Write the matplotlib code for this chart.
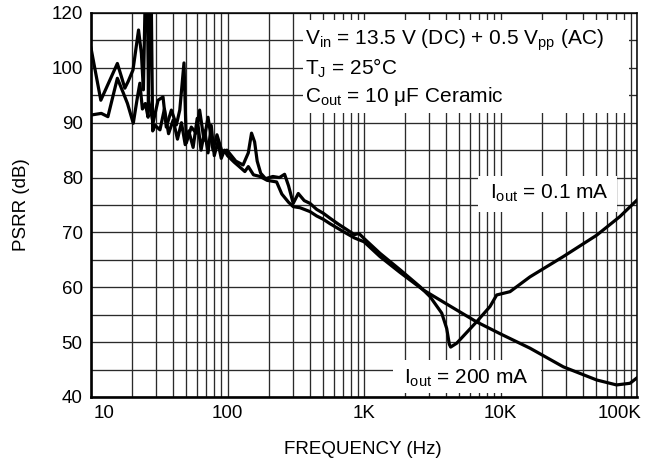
import matplotlib
matplotlib.use("Agg")
import matplotlib.pyplot as plt
import matplotlib.transforms as mtransforms
from matplotlib.patches import Rectangle

plt.rcParams['font.family'] = ['Liberation Sans', 'DejaVu Sans']
plt.rcParams['mathtext.fontset'] = 'custom'
plt.rcParams['mathtext.rm'] = 'Liberation Sans'
plt.rcParams['mathtext.it'] = 'Liberation Sans:italic'

# ---- data ----
freq_low = [10, 11.8, 15.6, 16.7, 17.7, 18.7, 20.3, 22.3, 23.4, 24.2, 25.5, 26.4, 28.5, 31, 33.7,
            35.6, 38.8, 42.2, 44.7, 48, 49.9, 54.3, 59, 62.5, 67.3, 72, 78.3, 83.7, 91.2, 99,
            115, 130, 142, 150, 158, 165, 175, 190, 215, 240, 262, 280, 303, 330, 365, 402,
            450, 503, 563, 650, 750, 850, 920, 1000, 1309, 1837, 2573, 3046, 3710, 4034,
            4220, 4315, 4775, 6677, 8380, 9380, 11740, 16440, 28840, 50700, 75000, 100000]
psrr_low = [103.6, 94.1, 100.8, 98.4, 96.3, 97.5, 99.6, 106.9, 102.6, 96, 125, 94.1, 90.0, 94.1, 94.7,
            89.2, 92.3, 89.6, 92.3, 100.9, 86.3, 89.2, 88.1, 92.3, 86.8, 91, 85, 87.8, 84.7, 85,
            83.0, 82.3, 84.5, 88.1, 86.5, 83, 80.8, 79.8, 80.2, 80.0, 80.6, 78.5, 75.3, 77.1, 75.8, 75.3,
            74.2, 73.5, 72.6, 71.5, 70.5, 69.6, 69.8, 68.9, 66.2, 63.2, 60.1, 58.3, 55.3, 52.5,
            49.6, 49.1, 49.8, 53.7, 56.5, 58.6, 59.2, 61.9, 65.6, 69.5, 72.9, 75.9]

freq_high = [10, 11.9, 13.3, 15.6, 17.2, 18.5, 20.4, 22.0, 22.8, 23.8, 25.0, 26.2, 27.3, 28.3, 29.5,
             32, 34.5, 37, 40, 43, 46, 49, 52, 56, 60, 64, 68, 72, 76, 80, 85, 90, 95, 100,
             112, 122, 134, 142, 155, 173, 195, 229, 250, 280, 303, 340, 402, 450, 503, 563,
             700, 850, 1000, 1309, 1837, 2723, 4000, 6677, 10000, 16440, 28840, 50700, 70800,
             88900, 100000]
psrr_high = [91.4, 91.7, 91.1, 98.1, 95.5, 93.5, 89.9, 95.0, 97.2, 92.5, 93.5, 91.0, 125, 88.5, 89.5,
             88.7, 92.5, 88.0, 90.5, 87.0, 90.0, 86.0, 88.5, 85.5, 90.8, 85.0, 88.5, 84.5, 89.5, 84.0,
             86.5, 83.5, 85.0, 84.0,
             82.8, 82.0, 81.1, 82.0, 80.5, 80.2, 79.5, 79.2, 77.0, 75.5, 74.7, 74.5, 73.8, 73.0, 72.4, 71.6,
             70.2, 69.0, 68.3, 65.6, 62.7, 59.5, 57.0, 53.7, 51.5, 48.9, 45.5, 43.1, 42.2,
             42.5, 43.5]

x_ticks = [10, 100, 1000, 10000, 100000]
x_tick_labels = ["10", "100", "1K", "10K", "100K"]
y_ticks = [40, 50, 60, 70, 80, 90, 100, 110]
y_tick_labels = ["40", "50", "60", "70", "80", "90", "100", "120"]

cond_lines = [r"V$_{\rm in}$ = 13.5 V (DC) + 0.5 V$_{\rm pp}$ (AC)",
              r"T$_{\rm J}$ = 25°C",
              r"C$_{\rm out}$ = 10 μF Ceramic"]
label_low = r"I$_{\rm out}$ = 0.1 mA"
label_high = r"I$_{\rm out}$ = 200 mA"

TICK_FS = 13.5
NOTE_FS = 15

# ---- figure ----
fig = plt.figure(figsize=(6.6, 4.68), dpi=100)
ax = fig.add_axes([91/660, 1-397/468, 546/660, 384/468])
ax.set_xscale('log')
ax.set_xlim(10, 100000)
ax.set_ylim(40, 110)

# grid: every 1..9 per decade, every 5 dB
ax.set_xticks(x_ticks)
ax.set_xticklabels(x_tick_labels)
ax.set_xticks([m * 10**d for d in range(1, 5) for m in range(2, 10)], minor=True)
ax.set_yticks(y_ticks)
ax.set_yticklabels(y_tick_labels)
ax.set_yticks([45, 55, 65, 75, 85, 95, 105], minor=True)
ax.tick_params(which='both', length=0)
ax.tick_params(axis='x', pad=6, labelsize=TICK_FS)
ax.tick_params(axis='y', pad=6, labelsize=TICK_FS)
ax.grid(True, which='both', color='#2a2a2a', linewidth=0.95, zorder=0)
ax.set_axisbelow(True)

for side in ['left', 'bottom']:
    ax.spines[side].set_linewidth(1.9)
for side in ['top', 'right']:
    ax.spines[side].set_linewidth(1.1)

# shift edge tick labels inward
lbls = ax.get_xticklabels()
lbls[0].set_transform(lbls[0].get_transform() + mtransforms.ScaledTranslation(0.13, 0, fig.dpi_scale_trans))
lbls[-1].set_transform(lbls[-1].get_transform() + mtransforms.ScaledTranslation(-0.17, 0, fig.dpi_scale_trans))

# white boxes hiding grid
for (x0, y0, w, h) in [((303-91)/546, (397-113)/384, (629-303)/546, (113-20)/384),
                       ((478-91)/546, (397-212)/384, (617-478)/546, (212-176)/384),
                       ((393-91)/546, (397-393)/384, (541-393)/546, (393-360)/384)]:
    ax.add_patch(Rectangle((x0, y0), w, h, transform=ax.transAxes, facecolor='white',
                           edgecolor='none', zorder=1))

ax.plot(freq_low, psrr_low, color='black', linewidth=2.3, zorder=3, solid_joinstyle='round')
ax.plot(freq_high, psrr_high, color='black', linewidth=2.3, zorder=3, solid_joinstyle='round')

for i, t in enumerate(cond_lines):
    ax.text((305-91)/546, (397-(40+28*i))/384, t, transform=ax.transAxes, ha='left', va='center',
            fontsize=NOTE_FS, zorder=4)
ax.text((549-91)/546, (397-193)/384, label_low, transform=ax.transAxes, ha='center', va='center',
        fontsize=NOTE_FS, zorder=4)
ax.text((466-91)/546, (397-378)/384, label_high, transform=ax.transAxes, ha='center', va='center',
        fontsize=NOTE_FS, zorder=4)

fig.text(363/660, 1-450/468, "FREQUENCY (Hz)", ha='center', va='center', fontsize=TICK_FS)
fig.text(22/660, 1-205/468, "PSRR (dB)", ha='center', va='center', rotation=90, fontsize=TICK_FS)

fig.savefig("out.png", dpi=100)
